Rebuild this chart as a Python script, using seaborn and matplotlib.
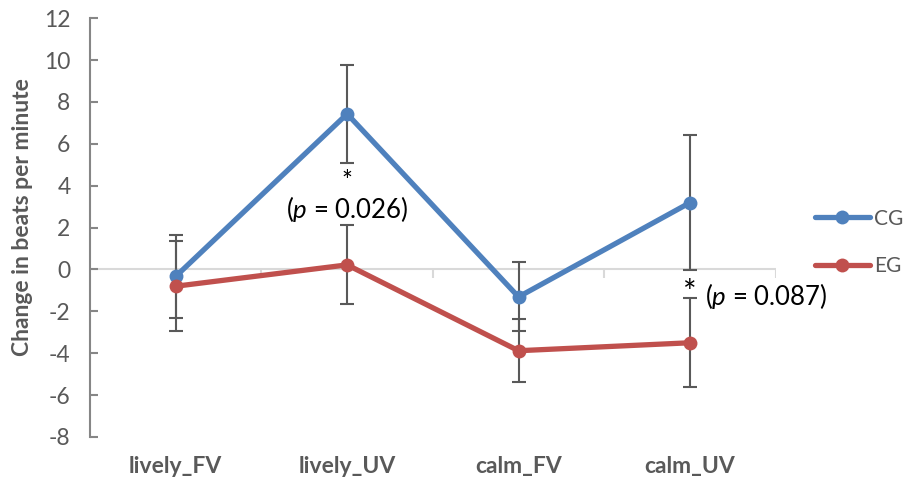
import pandas as pd
import matplotlib
matplotlib.use("Agg")
import matplotlib.pyplot as plt
import seaborn as sns

# ---- data ----
conditions = ["lively_FV", "lively_UV", "calm_FV", "calm_UV"]
groups = ["CG", "EG"]
cg_mean = [-0.33, 7.43, -1.31, 3.19]
cg_err = [2.0, 2.33, 1.65, 3.22]
eg_mean = [-0.80, 0.22, -3.88, -3.50]
eg_err = [2.15, 1.89, 1.50, 2.13]
y_ticks = list(range(-8, 13, 2))

colors = {"CG": "#4F81BD", "EG": "#C0504D"}

df = pd.DataFrame({
    "condition": conditions * 2,
    "group": ["CG"] * 4 + ["EG"] * 4,
    "change": cg_mean + eg_mean,
    "err": cg_err + eg_err,
})

sns.set_theme(style="white")
plt.rcParams["font.family"] = ["Lato", "DejaVu Sans"]
plt.rcParams["axes.unicode_minus"] = False
plt.rcParams["mathtext.fontset"] = "custom"
plt.rcParams["mathtext.it"] = "Lato:italic"
plt.rcParams["mathtext.rm"] = "Lato"

fig = plt.figure(figsize=(9.04, 4.79), dpi=100)
ax = fig.add_axes([0.0996, 0.0877, 0.7584, 0.8743])

# zero line (category axis)
ax.axhline(0, color="#D9D9D9", lw=1.5, zorder=0)
n = len(conditions)
ax.vlines([i - 0.5 for i in range(1, n + 1)], -0.4, 0, color="#D9D9D9", lw=1.5, zorder=0)

# error bars
for g in groups:
    sub = df[df["group"] == g]
    ax.errorbar(range(n), sub["change"], yerr=sub["err"], fmt="none",
                ecolor="#595959", elinewidth=1.5, capsize=5, capthick=1.5, zorder=2)

sns.lineplot(data=df, x="condition", y="change", hue="group", palette=colors,
             marker="o", markersize=10, markeredgewidth=0, linewidth=3.8,
             sort=False, ax=ax, zorder=3)

ax.set_xlim(-0.5, n - 0.5)
ax.set_ylim(-8, 12)
ax.set_yticks(y_ticks)
ax.tick_params(axis="y", direction="in", length=6, width=1.5, color="#868686",
               labelsize=16.5, labelcolor="#595959", left=True, pad=14)
ax.tick_params(axis="x", length=0, labelsize=16.5, labelcolor="#595959", pad=14)
for lab in ax.get_xticklabels():
    lab.set_fontweight("bold")

for s in ["top", "right", "bottom"]:
    ax.spines[s].set_visible(False)
ax.spines["left"].set_color("#868686")
ax.spines["left"].set_linewidth(1.5)

ax.set_xlabel("")
ax.set_ylabel("Change in beats per minute", fontsize=16.5, fontweight="bold",
              color="#595959")
ax.yaxis.set_label_coords(-0.083, 0.525)

# significance notes
ax.text(1.0, 2.45, "*\n" + r"($\it{p}$ = 0.026)", ha="center", va="baseline",
        multialignment="center", linespacing=0.95, fontsize=18.5, color="black")
ax.text(3, -1.6, "*", ha="center", va="baseline", fontsize=23, color="black")
ax.text(3.09, -1.25, r"($\it{p}$ = 0.087)", ha="left", va="center", fontsize=18.5, color="black")

leg = ax.legend(loc="center left", bbox_to_anchor=(1.058, 0.465), frameon=False,
                fontsize=15, handlelength=2.6, labelspacing=1.3, handletextpad=0.2,
                borderpad=0, borderaxespad=0)
for t in leg.get_texts():
    t.set_color("#595959")

plt.savefig("out.png", dpi=100)
